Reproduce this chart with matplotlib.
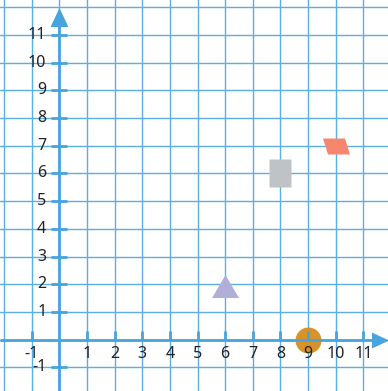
import matplotlib
matplotlib.use("Agg")
import matplotlib.pyplot as plt
import numpy as np
from matplotlib.path import Path

# Data
point_x = [8, 10, 6, 9]
point_y = [6, 7, 2, 0]
point_colors = ["#bdc3c7", "#f7866e", "#b1aed9", "#d8922c"]
x_ticks = [t for t in range(-1, 12) if t != 0]
y_ticks = [t for t in range(-1, 12) if t != 0]

W, H = 388, 391
fig = plt.figure(figsize=(W / 100, H / 100), dpi=100)
ax = fig.add_axes([0, 0, 1, 1])
x0, x1 = -2.145, 11.89
y0, y1 = -1.85, 12.26
ax.set_xlim(x0, x1)
ax.set_ylim(y0, y1)
ax.axis("off")

grid_c = "#5aaee3"
axis_c = "#46a4de"
for v in range(-2, 13):
    ax.axvline(v, color=grid_c, lw=1.0, zorder=1)
    ax.axhline(v, color=grid_c, lw=1.0, zorder=1)

# axes lines
ax.plot([0, 0], [y0, 11.4], color=axis_c, lw=2, zorder=4, solid_capstyle="butt")
ax.plot([x0, 11.4], [0, 0], color=axis_c, lw=2, zorder=4, solid_capstyle="butt")
up = Path([(-0.47, -0.5), (0.47, -0.5), (0, 0.5), (-0.47, -0.5)])
right = Path([(-0.5, -0.47), (0.5, 0), (-0.5, 0.47), (-0.5, -0.47)])
ax.plot([0], [11.66], marker=up, markersize=19 * 0.72, color=axis_c, mec="none", zorder=5)
ax.plot([11.6], [0], marker=right, markersize=17 * 0.72, color=axis_c, mec="none", zorder=5)

# ticks
px_x = (x1 - x0) / W
px_y = (y1 - y0) / H
for t in x_ticks:
    ax.plot([t, t], [0, 9 * px_y], color=axis_c, lw=2, zorder=4, solid_capstyle="butt")
    ax.text(t, -14 * px_y, str(t), ha="center", va="center", fontsize=11.5,
            family="Noto Sans", color="#222222", zorder=6)
for t in y_ticks:
    ax.plot([-8 * px_x, 8 * px_x], [t, t], color=axis_c, lw=2, zorder=4, solid_capstyle="butt")
    ax.text(-13 * px_x, t, str(t), ha="right", va="center", fontsize=11.5,
            family="Noto Sans", color="#222222", zorder=6)

# markers
rect = Path([(-0.786, -1), (0.786, -1), (0.786, 1), (-0.786, 1), (-0.786, -1)])
para = Path([(-13.5, 8), (8.5, 8), (13.5, -8), (-8.5, -8), (-13.5, 8)])
tri = Path([(0, 9.5), (13.5, -13.5), (-13.5, -13.5), (0, 9.5)])
markers = [rect, para, tri, "o"]
sizes = [28, 27, 27, 26]
zs = [3, 3, 3, 2]
for x, y, c, m, s, z in zip(point_x, point_y, point_colors, markers, sizes, zs):
    ax.plot([x], [y], marker=m, markersize=s * 0.72, color=c, mec="none",
            linestyle="none", zorder=z)

fig.savefig("out.png", dpi=100)
